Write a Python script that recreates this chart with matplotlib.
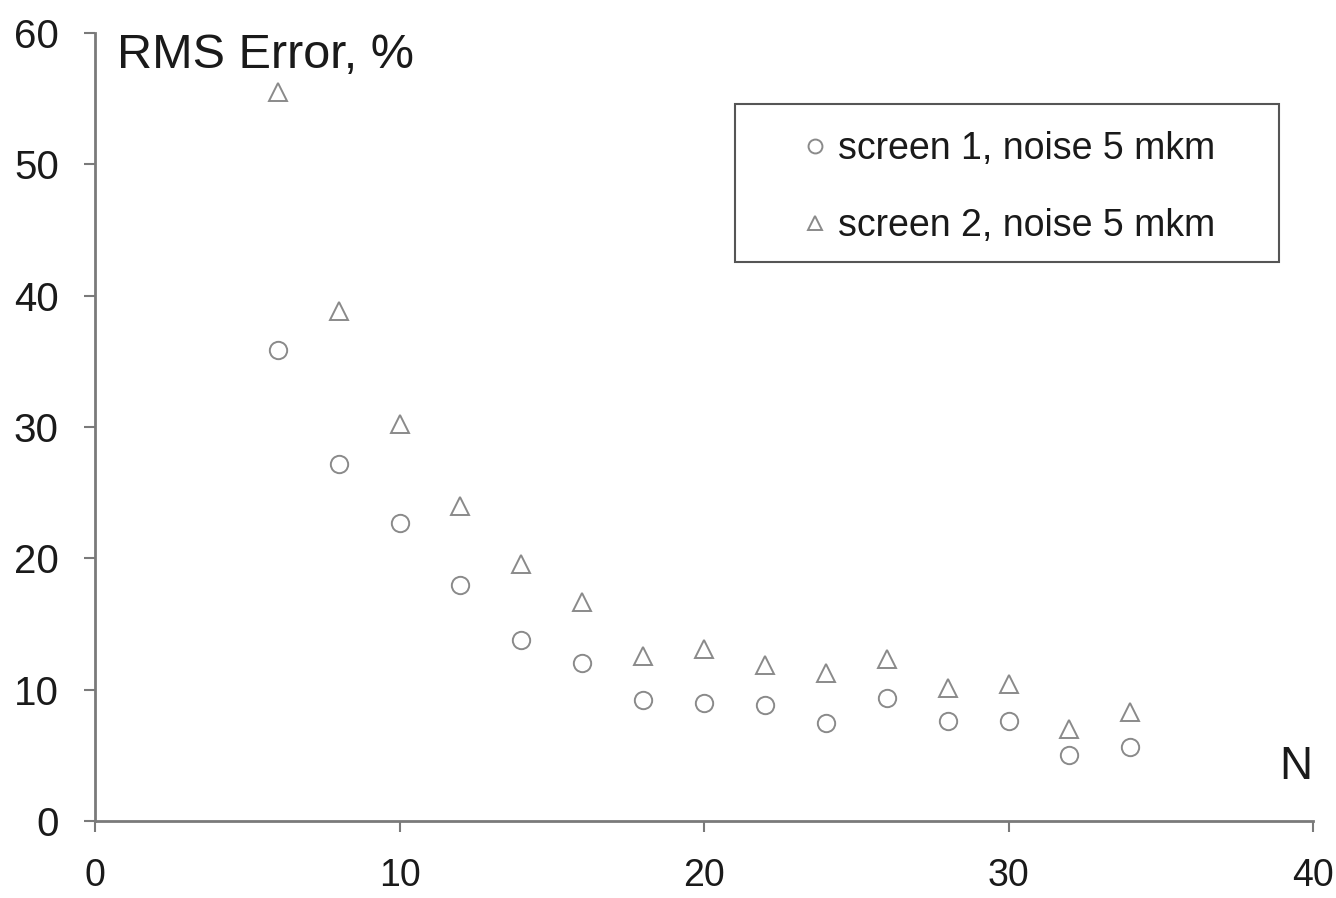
import matplotlib.pyplot as plt
from matplotlib.patches import Rectangle

plt.rcParams['font.family'] = ['Liberation Sans', 'DejaVu Sans']

n_values = [6, 8, 10, 12, 14, 16, 18, 20, 22, 24, 26, 28, 30, 32, 34]
screen1 = [35.9, 27.2, 22.7, 18.0, 13.8, 12.0, 9.2, 9.0, 8.8, 7.5, 9.4, 7.6, 7.6, 5.0, 5.6]
screen2 = [55.5, 38.8, 30.2, 24.0, 19.6, 16.7, 12.6, 13.1, 11.9, 11.3, 12.3, 10.1, 10.4, 7.0, 8.3]
labels = ["screen 1, noise 5 mkm", "screen 2, noise 5 mkm"]

gray = "#8a8a8a"
text_col = "#1a1a1a"

fig = plt.figure(figsize=(13.36, 8.98), dpi=100)
ax = fig.add_axes([95 / 1336, 1 - 821 / 898, (1313 - 95) / 1336, (821 - 33) / 898])

ax.plot(n_values, screen1, linestyle="none", marker="o", markersize=12.5,
        markerfacecolor="none", markeredgecolor=gray, markeredgewidth=1.4, label=labels[0])
ax.plot(n_values, screen2, linestyle="none", marker="^", markersize=12.5,
        markerfacecolor="none", markeredgecolor=gray, markeredgewidth=1.4, label=labels[1])

ax.set_xlim(0, 40)
ax.set_ylim(0, 60)
ax.set_xticks([0, 10, 20, 30, 40])
ax.set_yticks([0, 10, 20, 30, 40, 50, 60])

for side in ["top", "right"]:
    ax.spines[side].set_visible(False)
for side in ["left", "bottom"]:
    ax.spines[side].set_color("#7a7a7a")
    ax.spines[side].set_linewidth(2)

ax.tick_params(axis="both", colors="#7a7a7a", width=1.5, length=8, labelcolor=text_col, labelsize=29)
ax.tick_params(axis="x", labelsize=27, pad=19)
ax.tick_params(axis="y", pad=18)

ax.text(117 / 1336, 1 - 55 / 898, "RMS Error, %", transform=fig.transFigure,
        fontsize=35, color=text_col, va="center", ha="left")
ax.text(1312 / 1336, 1 - 767 / 898, "N", transform=fig.transFigure,
        fontsize=33, color=text_col, va="center", ha="right")

fig.patches.append(Rectangle((735 / 1336, 1 - 262 / 898), (1279 - 735) / 1336, (262 - 104) / 898,
                             transform=fig.transFigure, fill=False, edgecolor="#555555", linewidth=1.5))

leg = ax.legend(loc="upper left", bbox_to_anchor=(804 / 1336, 1 - 131 / 898),
                bbox_transform=fig.transFigure, frameon=False, fontsize=27,
                markerscale=0.8, handlelength=0.6, handletextpad=0.3,
                labelspacing=1.1, borderpad=0, borderaxespad=0)
for t in leg.get_texts():
    t.set_color(text_col)

fig.savefig("out.png", dpi=100)
